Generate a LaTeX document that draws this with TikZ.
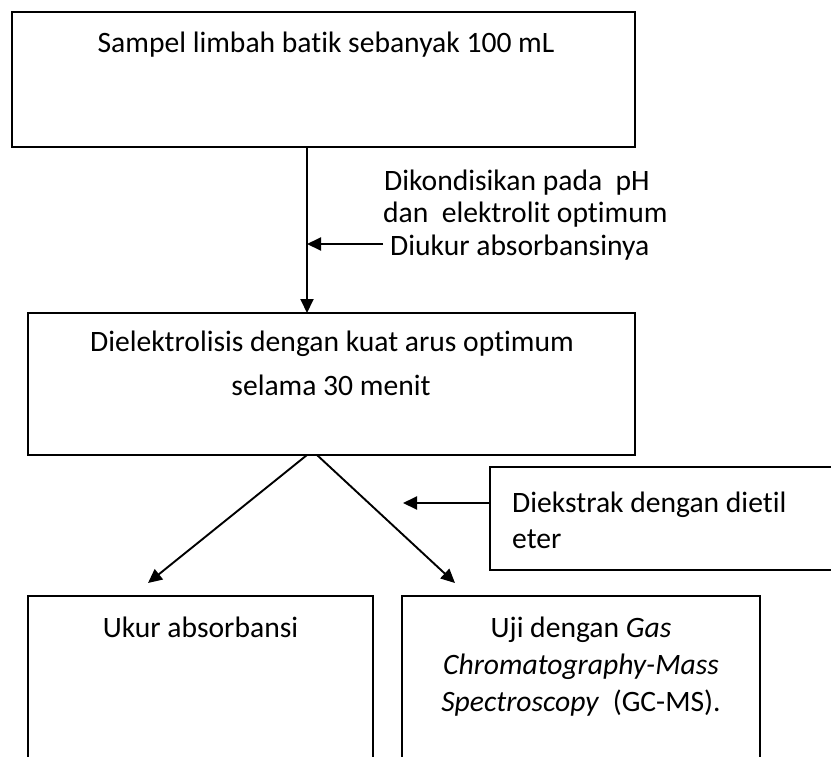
\documentclass[tikz,border=0pt]{standalone}
\usepackage{fontspec}
\setmainfont{Carlito}[Ligatures={NoCommon}]
\usetikzlibrary{arrows.meta}
\begin{document}
\begin{tikzpicture}[x=1pt,y=-1pt,
  box/.style={draw=black,line width=1.9pt,rectangle,inner sep=0pt,outer sep=0pt,anchor=north west},
  arr/.style={draw=black,line width=1.9pt,-{Triangle[length=14pt,width=13pt]}},
  lbl/.style={anchor=base,inner sep=0pt,font=\fontsize{29.6}{36}\selectfont},
  lbll/.style={anchor=base west,inner sep=0pt,font=\fontsize{29.6}{36}\selectfont}]
\useasboundingbox (0,0) rectangle (831,756);
\clip (0,0) rectangle (831,756);
% boxes
\node[box,minimum width=623pt,minimum height=135pt] (b1) at (12,12) {};
\node[box,minimum width=607pt,minimum height=142pt] (b2) at (28,313) {};
\node[box,minimum width=360pt,minimum height=103pt] (b5) at (490,467) {};
\node[box,minimum width=345pt,minimum height=190pt] (b3) at (28,596) {};
\node[box,minimum width=358pt,minimum height=190pt] (b4) at (402,596) {};
% texts
\node[lbl] (t1) at (326,52) {Sampel limbah batik sebanyak 100 mL};
\node[lbl] (t2a) at (332,351) {Dielektrolisis dengan kuat arus optimum};
\node[lbl] (t2b) at (331,395) {selama 30 menit};
\node[lbll] (s1) at (384,190) {Dikondisikan pada\ \ pH};
\node[lbll] (s2) at (383,222) {dan\ \ elektrolit optimum};
\node[lbll] (s3) at (390,255) {Diukur absorbansinya};
\node[lbll] (e1) at (512,512) {Diekstrak dengan dietil};
\node[lbll] (e2) at (512,548) {eter};
\node[lbl] (u1) at (200.5,637) {Ukur absorbansi};
\node[lbl] (g1) at (581,637) {Uji dengan \textit{Gas}};
\node[lbl] (g2) at (581,674) {\textit{Chromatography-Mass}};
\node[lbl] (g3) at (581,711) {\textit{Spectroscopy}\ \ (GC-MS).};
% connectors
\coordinate (v) at (307,0);
\coordinate (sidetail) at (383,244);
\coordinate (dl) at (307,455);
\coordinate (dr) at (317,455);
\coordinate (tipl) at (148,583);
\coordinate (tipr) at (455,583);
\coordinate (etip) at (403,503);
\draw[arr] (b1.south -| v) -- (b2.north -| v);
\draw[arr] (sidetail) -- (sidetail -| v);
\draw[arr] (dl) -- (tipl);
\draw[arr] (dr) -- (tipr);
\draw[arr] (b5.west |- etip) -- (etip);
\end{tikzpicture}
\end{document}
